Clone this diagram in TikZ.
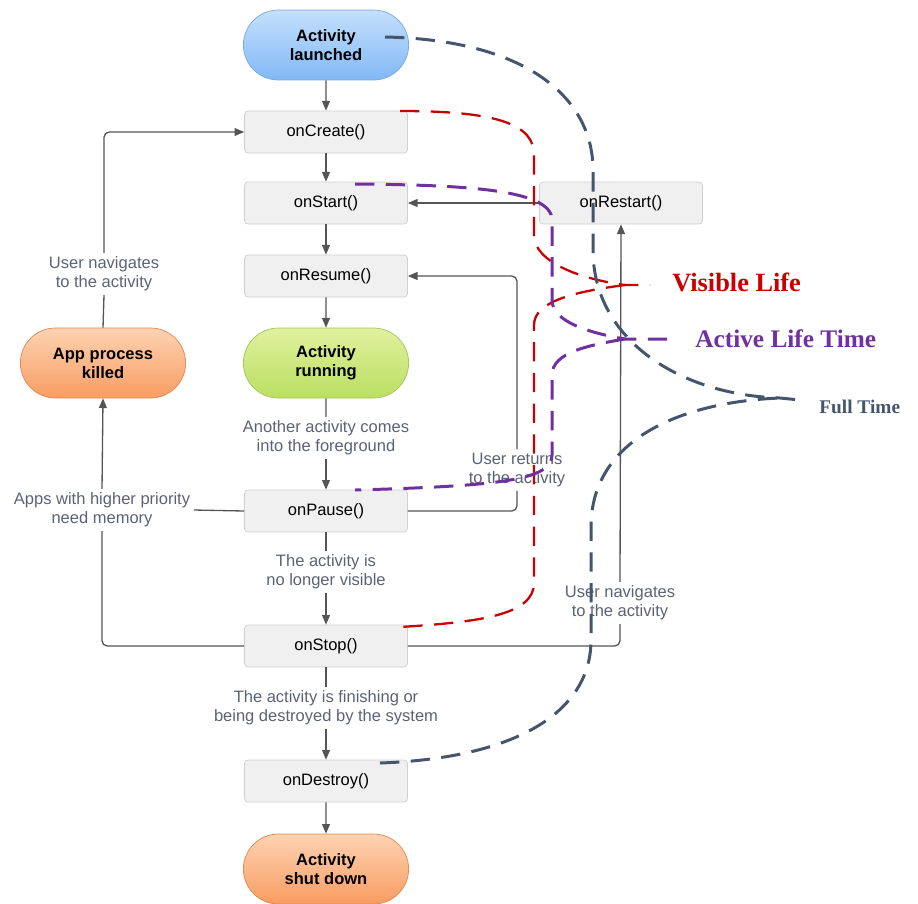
\documentclass[tikz,border=0pt]{standalone}
\usepackage{fontspec}
\setmainfont{Liberation Serif}
\setsansfont{Liberation Sans}
\usetikzlibrary{arrows.meta, shapes.misc}
\definecolor{RED}{HTML}{C80000}
\definecolor{PURPLE}{HTML}{7030A0}
\definecolor{SLATE}{HTML}{44556D}
\definecolor{FLOW}{HTML}{555555}
\definecolor{NOTE}{HTML}{5B6275}
\definecolor{BOXFILL}{HTML}{F0F0F0}
\definecolor{BOXLINE}{HTML}{CFCFCF}
\definecolor{BLUETOP}{HTML}{C4E0FC}
\definecolor{BLUEBOT}{HTML}{82B8F6}
\definecolor{BLUELINE}{HTML}{78A8E0}
\definecolor{GREENTOP}{HTML}{E0F19E}
\definecolor{GREENBOT}{HTML}{BADF62}
\definecolor{GREENLINE}{HTML}{A2C556}
\definecolor{ORANGETOP}{HTML}{FDD3B2}
\definecolor{ORANGEBOT}{HTML}{F99C62}
\definecolor{ORANGELINE}{HTML}{E08850}

\begin{document}
\begin{tikzpicture}[x=0.02cm, y=-0.02cm,
    method/.style={draw=BOXLINE, fill=BOXFILL, rounded corners=2pt, minimum width=3.26cm, minimum height=0.84cm, font=\sffamily\fontsize{9.4}{10.8}\selectfont},
    state/.style={rounded rectangle, minimum width=3.54cm, minimum height=1.4cm, align=center, font=\sffamily\bfseries\fontsize{9.4}{10.8}\selectfont},
    note/.style={text=NOTE, align=center, inner sep=2pt, font=\sffamily\fontsize{9.4}{10.8}\selectfont},
    flow/.style={draw=FLOW, line width=0.75pt, -{Triangle[length=5.5pt,width=4.5pt]}},
    link/.style={draw=FLOW, line width=0.75pt, rounded corners=3pt},
    life/.style={line width=#1, dash pattern=on 11pt off 6.5pt}]
    \useasboundingbox (0,0) rectangle (918,903);

    \node[state, draw=BLUELINE, top color=BLUETOP, bottom color=BLUEBOT] (launched) at (326,45) {Activity\\launched};
    \node[method] (onCreate) at (326,132) {onCreate()};
    \node[method] (onStart) at (326,203) {onStart()};
    \node[method] (onResume) at (326,276) {onResume()};
    \node[state, draw=GREENLINE, top color=GREENTOP, bottom color=GREENBOT] (running) at (326,363) {Activity\\running};
    \node[method] (onPause) at (326,511) {onPause()};
    \node[method] (onStop) at (326,646) {onStop()};
    \node[method] (onDestroy) at (326,781) {onDestroy()};
    \node[state, draw=ORANGELINE, top color=ORANGETOP, bottom color=ORANGEBOT] (shutdown) at (326,869) {Activity\\shut down};
    \node[method] (onRestart) at (621,203) {onRestart()};
    \node[state, draw=ORANGELINE, top color=ORANGETOP, bottom color=ORANGEBOT] (killed) at (103,363) {App process\\killed};

    \node[note] (navback) at (104,274) {User navigates\\to the activity};
    \node[note] (another) at (326,438) {Another activity comes\\into the foreground};
    \node[note] (returns) at (517,470) {User returns\\to the activity};
    \node[note] (memory) at (102,510) {Apps with higher priority\\need memory};
    \node[note] (novisible) at (326,572) {The activity is\\no longer visible};
    \node[note] (navagain) at (620,603) {User navigates\\to the activity};
    \node[note] (finishing) at (326,708) {The activity is finishing or\\being destroyed by the system};

    \draw[flow] (launched) -- (onCreate);
    \draw[flow] (onCreate) -- (onStart);
    \draw[flow] (onStart) -- (onResume);
    \draw[flow] (onResume) -- (running);
    \draw[link] (running) -- (another);
    \draw[flow] (another) -- (onPause);
    \draw[link] (onPause) -- (novisible);
    \draw[flow] (novisible) -- (onStop);
    \draw[link] (onStop) -- (finishing);
    \draw[flow] (finishing) -- (onDestroy);
    \draw[flow] (onDestroy) -- (shutdown);
    \draw[link] (onPause.east) -| (returns.south);
    \draw[flow, rounded corners=3pt] (returns.north) |- (onResume.east);
    \draw[link] (onStop.east) -| (navagain.south);
    \draw[flow] (navagain.north) -- (onRestart.south);
    \draw[flow] (onRestart.west) -- (onStart.east);
    \draw[link] (onPause.west) -- (memory.east);
    \draw[link] (onStop.west) -| (memory.south);
    \draw[flow] (memory.north) -- (killed.south);
    \draw[link] (killed.north) -- (navback.south);
    \draw[flow, rounded corners=3pt] (navback.north) |- (onCreate.west);

    \coordinate (visibletip) at (625,285);
    \coordinate (activetip) at (625,339);
    \coordinate (fulltip) at (780,398);

    \draw[RED, life=1.3pt] (400,111) .. controls (500,111) and (534,125) .. (534,155) -- (534,235)
        .. controls (534,262) and (580,279) .. (visibletip) -- (650,285);
    \draw[RED, life=1.3pt] (visibletip) .. controls (580,291) and (534,300) .. (534,325) -- (534,583)
        .. controls (534,615) and (480,622) .. (400,627);
    \draw[PURPLE, life=1.7pt] (355,184) .. controls (470,185) and (552,190) .. (552,220) -- (552,300)
        .. controls (552,322) and (590,333) .. (activetip) -- (668,339);
    \draw[PURPLE, life=1.7pt] (activetip) .. controls (590,345) and (552,352) .. (552,375) -- (552,455)
        .. controls (552,480) and (500,486) .. (355,490);
    \draw[SLATE, life=1.7pt] (385,37) .. controls (530,40) and (593,100) .. (593,170) -- (593,250)
        .. controls (593,340) and (680,395) .. (fulltip) -- (800,400);
    \draw[SLATE, life=1.7pt] (380,763) .. controls (520,758) and (591,710) .. (591,640) -- (591,527)
        .. controls (591,440) and (680,402) .. (fulltip);

    \node[RED, anchor=west, inner sep=0pt, font=\bfseries\fontsize{15}{18}\selectfont] (visible) at (672,282) {Visible Life};
    \node[PURPLE, anchor=west, inner sep=0pt, font=\bfseries\fontsize{14.4}{17}\selectfont] (active) at (695,339) {Active Life Time};
    \node[SLATE, anchor=west, inner sep=0pt, font=\bfseries\fontsize{11}{13}\selectfont] (full) at (819,407) {Full Time};
\end{tikzpicture}
\end{document}
